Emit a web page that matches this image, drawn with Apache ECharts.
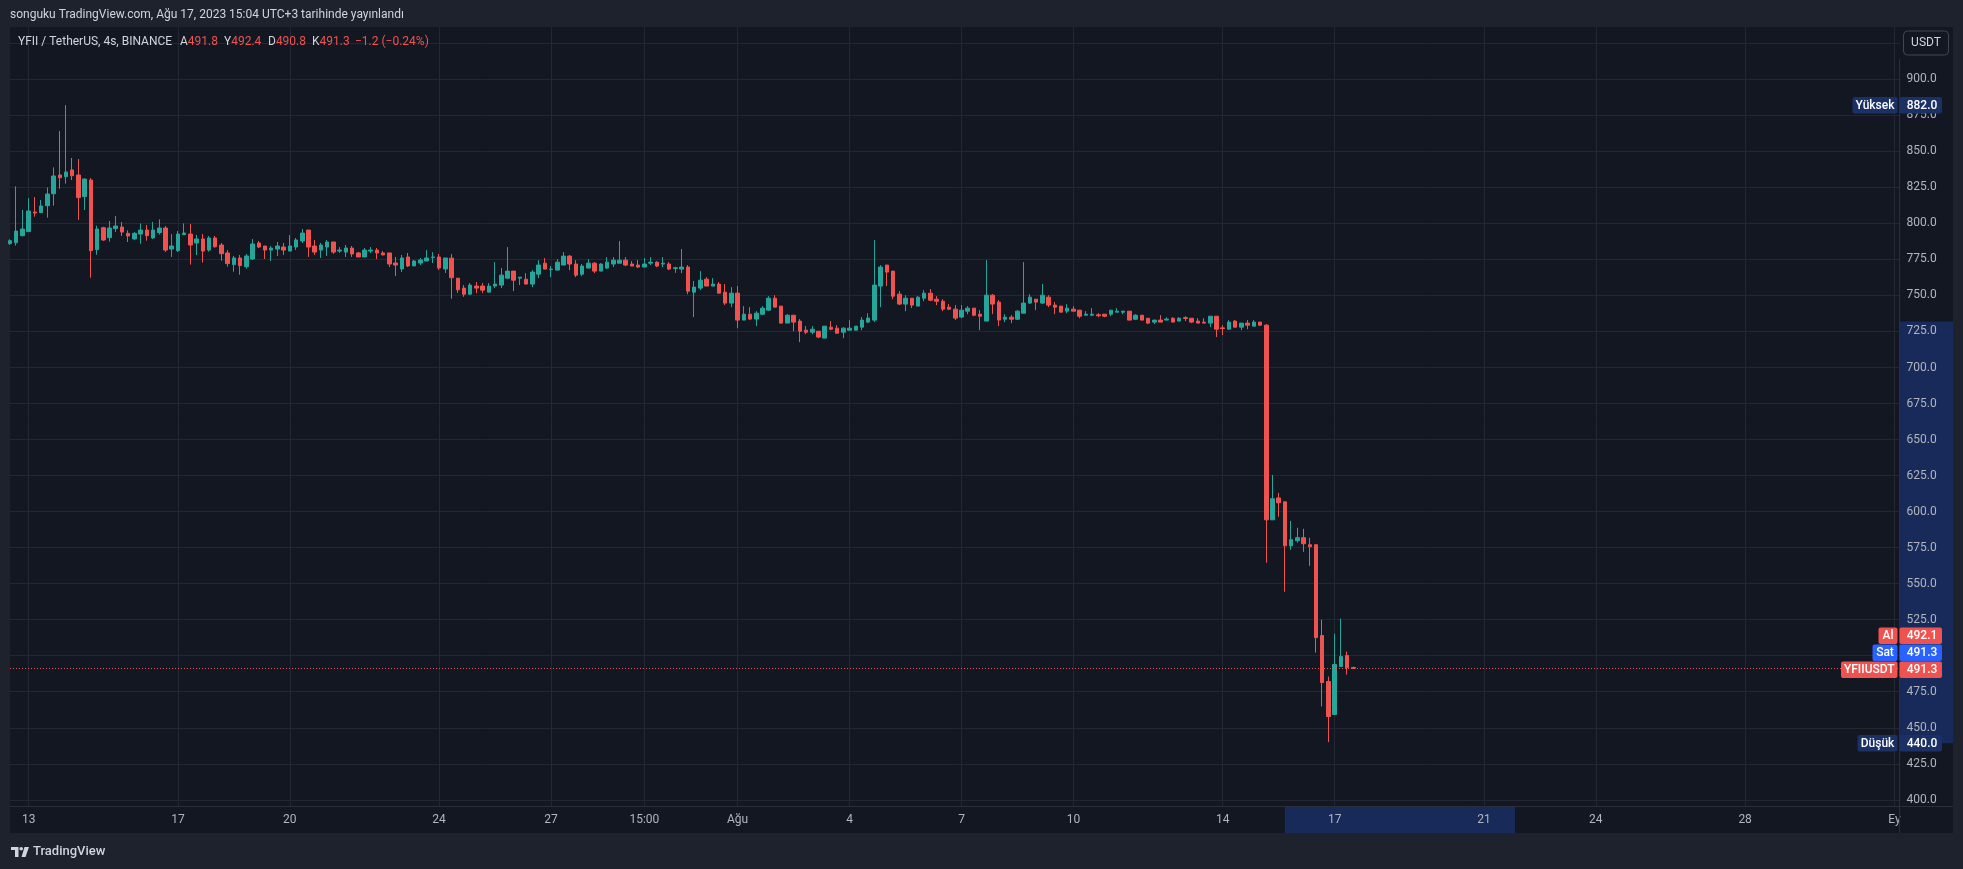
<!DOCTYPE html>
<html><head><meta charset="utf-8">
<script src="https://cdn.jsdelivr.net/npm/echarts@6/dist/echarts.min.js"></script>
<style>html,body{margin:0;padding:0;background:#1e222d;overflow:hidden}#c{width:1963px;height:869px}</style>
</head><body><div id="c"></div>
<script>
// ---- data (4h candles, UTC+3 local time) ----
const opens = [786,786.6,791.5,794.3,807.9,807.5,812.3,820.6,833.6,832.4,
837.1,833.6,818.6,830.1,781.8,797.0,790.1,796.4,797.5,793.1,
789.2,792.6,795.4,789.9,793.6,796.8,782.2,781.1,792.2,792.6,
786.4,789.2,781.5,789.9,785.0,779.5,771.4,776.0,770.0,775.3,
786.4,784.3,781.5,782.2,783.6,780.8,783.6,787.8,795.4,784.3,
781.5,783.6,787.1,780.8,780.1,782.9,779.5,776.7,780.8,781.5,
779.5,779.5,772.5,768.4,776.7,770.5,772.5,773.9,776.3,776.7,
768.4,775.9,762.0,755.1,750.9,756.5,756.5,752.3,756.5,757.2,
762.0,766.9,762.0,761.3,757.9,764.8,772.4,768.0,767.6,771.1,
777.3,771.8,764.8,769.0,772.4,766.9,769.0,771.8,772.4,774.5,
771.8,771.1,769.7,772.4,773.1,771.8,771.8,768.7,768.3,769.7,
752.3,755.1,761.3,756.5,757.9,752.3,744.7,751.6,732.9,737.0,
733.6,737.0,739.8,748.1,742.6,730.8,736.3,732.2,725.9,724.5,
725.2,720.4,728.0,727.3,724.5,725.9,725.9,728.0,731.5,732.9,
756.5,771.1,766.9,750.9,744.0,748.1,742.6,748.1,751.6,747.4,
746.0,741.9,740.5,735.0,739.1,741.2,737.0,732.2,750.2,745.4,
733.5,734.9,733.5,737.7,744.7,747.4,744.7,748.8,743.3,742.6,
739.1,740.5,739.8,736.3,736.3,736.6,737.0,737.0,738.4,738.4,
739.1,733.5,736.3,734.2,731.5,732.9,732.9,734.2,732.2,734.6,
734.2,732.2,731.5,730.8,735.6,727.5,726.6,732.2,728.0,730.8,
728.7,731.5,729.4,594.3,609.5,606.8,576.3,579.8,581.9,577.0,
577.0,514.0,482.1,459.2,492.5,500.1,491.8];
const highs = [789,825.7,809.3,817.6,818.3,816.2,825.0,838.9,864.1,882.0,
845.4,844.7,831.0,831.5,798.4,797.7,801.7,805.1,801.0,795.2,
794.0,800.0,798.9,801.0,802.8,798.2,792.6,794.7,800.0,799.6,
792.0,792.6,791.3,791.3,786.4,781.5,777.4,778.1,778.8,789.2,
787.8,784.3,784.3,787.1,786.4,791.9,789.9,796.1,795.4,788.5,
786.4,788.5,787.1,783.6,785.0,784.3,780.2,782.9,783.6,782.9,
780.8,779.5,776.7,778.1,779.5,774.6,776.0,781.5,780.1,778.8,
776.0,778.7,762.0,757.2,758.6,759.3,758.6,758.6,773.1,769.0,
783.6,766.9,762.7,765.5,767.6,774.5,775.9,770.4,775.2,780.1,
778.0,774.5,771.8,775.2,773.1,772.4,776.6,776.6,787.7,776.6,
773.8,774.5,775.9,776.6,773.8,776.6,773.1,769.9,782.2,771.1,
760.0,766.9,762.7,762.0,759.3,757.9,755.8,756.5,742.6,741.9,
739.1,742.6,749.5,750.2,742.6,737.0,736.3,733.6,728.7,728.7,
725.2,728.7,732.2,729.4,728.0,732.9,728.7,735.0,737.7,788.4,
771.1,771.1,766.9,753.0,750.2,748.1,749.5,753.7,754.4,749.5,
747.4,744.0,743.3,743.3,742.6,741.2,739.8,774.5,750.9,746.8,
737.0,736.3,739.8,773.1,750.9,747.4,757.9,750.2,745.4,742.6,
743.9,742.6,739.8,739.1,741.2,737.7,737.0,739.8,741.2,739.1,
739.1,737.0,736.3,734.2,732.9,736.3,734.9,734.9,734.9,735.6,
734.2,734.2,734.2,735.6,735.6,729.4,732.9,732.9,730.8,732.9,
732.9,731.5,730.1,625.5,613.0,606.8,593.6,588.8,588.1,581.8,
577.0,525.0,485.6,515.3,525.7,502.9,492.4];
const lows = [785,784.6,791.0,794.0,804.7,807.4,804.0,812.3,824.1,827.6,
830.1,802.4,809.3,762.3,778.3,787.8,787.3,794.1,791.3,787.1,
788.7,785.9,788.0,789.2,792.2,780.2,776.7,780.2,792.2,771.4,
778.1,772.8,780.4,783.2,774.1,770.0,766.5,764.4,768.6,774.6,
782.9,775.3,773.9,777.4,778.1,780.8,781.5,786.4,776.7,778.1,
776.0,777.4,778.8,779.5,776.7,776.7,776.7,776.7,779.5,775.3,
778.1,769.7,763.5,766.3,769.7,770.5,771.1,773.9,772.5,767.7,
765.6,747.7,751.8,749.1,750.2,751.6,751.6,752.3,755.1,755.1,
761.3,753.0,757.2,757.9,755.8,762.0,768.3,762.7,767.6,771.1,
767.6,762.7,763.4,769.0,765.5,766.9,768.3,769.7,772.4,770.4,
770.4,769.0,769.7,771.1,769.7,769.7,767.6,765.7,765.5,750.9,
735.0,753.7,756.5,756.5,751.6,743.3,741.9,727.3,732.9,732.9,
728.7,736.3,739.1,741.9,730.8,730.8,725.2,717.6,723.1,723.1,
720.4,720.4,725.9,723.8,720.4,725.9,725.9,725.9,730.8,731.5,
741.9,756.5,747.4,743.3,739.1,741.2,742.6,746.0,746.0,743.3,
739.1,739.8,732.9,734.2,737.0,735.6,725.9,732.2,737.0,728.7,
731.5,730.8,732.9,737.7,744.0,739.8,744.0,741.9,737.0,738.4,
737.7,739.1,734.2,736.3,735.6,734.9,734.9,735.6,738.4,737.0,
732.9,732.9,732.9,730.1,730.1,731.5,732.9,731.5,732.2,732.2,
730.8,730.8,730.8,728.0,721.1,722.5,726.6,728.0,725.9,726.6,
728.7,728.7,564.5,594.3,596.4,544.4,573.5,578.4,572.1,562.4,
502.2,464.8,440.0,459.2,492.5,486.9,490.8];
const closes = [788,794.7,796.1,808.6,807.2,812.1,820.4,832.9,831.7,835.7,
833.1,817.9,830.8,781.1,796.1,788.5,796.8,798.2,794.0,791.3,
793.1,795.4,791.5,795.4,796.8,781.5,784.3,792.6,793.3,785.0,
789.2,780.8,789.9,783.8,779.0,772.1,776.0,770.7,777.4,785.7,
783.6,781.5,782.9,784.3,781.5,784.3,788.5,793.3,783.6,780.1,
785.0,787.1,780.1,781.5,782.9,778.8,776.7,781.5,781.5,779.5,
778.1,771.8,771.1,776.0,770.5,773.9,774.6,776.0,776.7,769.1,
776.0,762.3,753.9,750.9,757.2,755.1,753.7,756.5,757.9,764.1,
766.9,760.6,762.7,757.9,766.2,771.1,768.3,768.3,773.1,777.3,
771.8,764.1,770.4,772.4,766.9,771.8,773.1,774.5,774.5,771.1,
770.4,769.7,771.8,773.1,770.4,772.4,768.3,769.2,769.7,753.0,
755.8,760.6,756.5,757.9,751.6,744.7,751.6,732.9,737.0,733.6,
737.7,741.2,748.1,741.9,730.8,736.3,731.5,725.2,724.5,726.6,
721.1,728.7,726.6,723.8,727.3,727.3,728.7,732.9,734.3,757.2,
769.7,766.2,749.5,744.0,748.1,743.3,748.8,751.6,746.7,746.0,
740.5,740.5,734.3,739.8,741.2,736.3,735.6,750.2,744.0,732.9,
734.9,733.5,739.1,744.7,748.8,745.4,750.2,743.3,741.9,738.4,
741.2,739.1,735.6,737.0,737.0,735.9,735.6,739.8,739.1,739.1,
732.9,736.3,732.9,730.8,732.9,731.5,733.6,731.5,734.2,734.0,
731.5,730.8,730.8,735.6,726.6,727.1,731.5,728.0,730.8,729.4,
731.5,729.4,594.3,608.9,606.1,576.3,580.5,581.9,577.7,575.6,
512.6,481.4,457.8,493.9,499.4,491.8,491.3];

// time axis: first candle 2023-07-12 15:00, 4h steps, axis runs to 2023-09-01
const startUTC = Date.UTC(2023, 6, 12, 15, 0);
const stepHours = 4;
const categoryCount = 305;
const tickLabels = {
  '2023-07-13 03:00':'13','2023-07-17 03:00':'17','2023-07-20 03:00':'20','2023-07-24 03:00':'24',
  '2023-07-27 03:00':'27','2023-07-29 15:00':'15:00','2023-08-01 03:00':'Ağu','2023-08-04 03:00':'4',
  '2023-08-07 03:00':'7','2023-08-10 03:00':'10','2023-08-14 03:00':'14','2023-08-17 03:00':'17',
  '2023-08-21 03:00':'21','2023-08-24 03:00':'24','2023-08-28 03:00':'28','2023-09-01 03:00':'Ey'
};
const yTickMin = 400, yTickMax = 925, yTickStep = 25;
const paneMin = 395.7, paneMax = 936.3;
const lastPrice = 491.3, askPrice = 492.1, bidPrice = 491.3;
const legendOHLC = {A:'491.8', Y:'492.4', D:'490.8', K:'491.3', chg:'−1.2 (−0.24%)'};
const highlightTimeRange = ['2023-08-15 19:00', '2023-08-21 23:00'];
const highlightPriceRange = [439.3, 732.0];

// ---- build ----
function fmt(d){const p=n=>String(n).padStart(2,'0');return d.getUTCFullYear()+'-'+p(d.getUTCMonth()+1)+'-'+p(d.getUTCDate())+' '+p(d.getUTCHours())+':00';}
const categories=[];
for(let i=0;i<categoryCount;i++) categories.push(fmt(new Date(startUTC+i*stepHours*3600e3)));
const candleData = opens.map((o,i)=>[o, closes[i], lows[i], highs[i]]);
const UP='#26a69a', DOWN='#ef5350', GRID='#232733', LABEL='#b2b5be', TXT='#d1d4dc';
const FONT='Roboto, "Noto Sans", sans-serif';
const PANE='#131722', FRAME='#1e222d', SEP='#2a2e39';

const chart = echarts.init(document.getElementById('c'));
const isTick=(i,v)=>Object.prototype.hasOwnProperty.call(tickLabels,v);
chart.setOption({
  backgroundColor: FRAME,
  animation:false,
  grid:[{left:10,top:27,right:62.4,bottom:63},{left:10,top:43.3,right:62.4,bottom:69.2}],
  xAxis:[
    {type:'category',gridIndex:0,data:categories,boundaryGap:false,
     axisLine:{show:false},axisTick:{show:false},
     axisLabel:{interval:isTick,formatter:v=>tickLabels[v]||'',color:LABEL,fontSize:12,fontFamily:FONT,margin:8},
     splitLine:{show:true,interval:isTick,lineStyle:{color:GRID,width:1}}},
    {type:'category',gridIndex:1,data:categories,boundaryGap:false,show:false}
  ],
  yAxis:[
    {type:'value',gridIndex:0,min:paneMin,max:paneMax,position:'right',show:true,
     axisLine:{show:false},axisLabel:{show:false},axisTick:{show:false},splitLine:{show:false}},
    {type:'value',gridIndex:1,min:yTickMin,max:yTickMax,interval:yTickStep,position:'right',
     axisLine:{show:false},axisTick:{show:false},
     axisLabel:{color:LABEL,fontSize:12,fontFamily:FONT,margin:6,align:'left',showMaxLabel:false,formatter:v=>v.toFixed(1)},
     splitLine:{show:true,lineStyle:{color:GRID,width:1}}}
  ],
  series:[{
    type:'candlestick',xAxisIndex:0,yAxisIndex:0,data:candleData,barWidth:4,clip:true,
    itemStyle:{color:UP,color0:DOWN,borderColor:UP,borderColor0:DOWN,borderWidth:1},
    markLine:{silent:true,symbol:['none','none'],label:{show:false},
      lineStyle:{color:DOWN,type:[1,2],width:1},data:[{yAxis:lastPrice}]}
  }]
});

const px = v => chart.convertToPixel({yAxisIndex:0}, v);
const pxX = c => chart.convertToPixel({xAxisIndex:0}, c);
const g = [];
// pane
g.push({type:'rect',z:-100,shape:{x:10,y:27,width:1943,height:806},style:{fill:PANE}});
// highlights
const hx0=pxX(highlightTimeRange[0]), hx1=pxX(highlightTimeRange[1]);
g.push({type:'rect',z:-50,shape:{x:hx0,y:807,width:hx1-hx0,height:26},style:{fill:'rgba(41,98,255,0.25)'}});
const hy0=px(highlightPriceRange[1]), hy1=px(highlightPriceRange[0]);
g.push({type:'rect',z:-50,shape:{x:1900,y:hy0,width:53,height:hy1-hy0},style:{fill:'rgba(41,98,255,0.25)'}});
// separators
g.push({type:'line',z:5,shape:{x1:10,y1:806.5,x2:1953,y2:806.5},style:{stroke:SEP,lineWidth:1}});
g.push({type:'line',z:5,shape:{x1:1899.5,y1:59,x2:1899.5,y2:833},style:{stroke:SEP,lineWidth:1}});
// USDT button
g.push({type:'rect',z:90,shape:{x:1900,y:27,width:53,height:31},style:{fill:PANE}});
g.push({type:'rect',z:91,shape:{x:1903.5,y:31,width:45,height:24,r:4},style:{fill:PANE,stroke:'#434651',lineWidth:1}});
g.push({type:'text',z:92,x:1926,y:43,style:{text:'USDT',fill:TXT,font:'12px '+FONT,align:'center',verticalAlign:'middle'}});
// price boxes
function box(label, value, y, color, lx){
  const h=16.5;
  g.push({type:'rect',z:95,shape:{x:lx,y:y-h/2,width:1897.5-lx,height:h,r:2},style:{fill:color}});
  g.push({type:'text',z:96,x:(lx+1897.5)/2,y:y+0.5,style:{text:label,fill:'#ffffff',font:'500 12px '+FONT,align:'center',verticalAlign:'middle'}});
  g.push({type:'rect',z:95,shape:{x:1899.5,y:y-h/2,width:42.5,height:h,r:2},style:{fill:color}});
  g.push({type:'text',z:96,x:1906.7,y:y+0.5,style:{text:value,fill:'#ffffff',font:'500 12px '+FONT,align:'left',verticalAlign:'middle'}});
}
const hi=Math.max(...highs), lo=Math.min(...lows), yl=px(lastPrice);
box('Yüksek', hi.toFixed(1), px(hi), '#1b3165', 1852.5);
box('Düşük', lo.toFixed(1), px(lo)+1, '#1b3165', 1857.5);
box('YFIIUSDT', lastPrice.toFixed(1), yl+1.5, DOWN, 1841);
box('Sat', bidPrice.toFixed(1), yl-15.5, '#2962ff', 1872.5);
box('Al', askPrice.toFixed(1), yl-32.5, DOWN, 1878.5);
// header
g.push({type:'text',x:10,y:15,style:{text:'songuku TradingView.com, Ağu 17, 2023 15:04 UTC+3 tarihinde yayınlandı',fill:TXT,font:'12px '+FONT,verticalAlign:'middle'}});
g.push({type:'text',x:18,y:42,style:{text:'YFII / TetherUS, 4s, BINANCE',fill:TXT,font:'12px '+FONT,verticalAlign:'middle'}});
[['A',180],['Y',224],['D',268],['K',312]].forEach(([k,x])=>{
  g.push({type:'text',x:x,y:42,style:{text:'{a|'+k+'}{b|'+legendOHLC[k]+'}',fill:TXT,font:'12px '+FONT,verticalAlign:'middle',
    rich:{a:{fill:TXT,font:'12px '+FONT},b:{fill:DOWN,font:'12px '+FONT}}}});
});
g.push({type:'text',x:355,y:42,style:{text:legendOHLC.chg,fill:DOWN,font:'12px '+FONT,verticalAlign:'middle'}});
// footer logo
g.push({type:'polygon',shape:{points:[[11,847],[18.5,847],[18.5,857],[15,857],[15,850],[11,850]]},style:{fill:TXT}});
g.push({type:'circle',shape:{cx:21.2,cy:848.8,r:1.8},style:{fill:TXT}});
g.push({type:'polygon',shape:{points:[[24.5,847],[29,847],[25.5,857],[21.5,857]]},style:{fill:TXT}});
g.push({type:'text',x:33,y:852,style:{text:'TradingView',fill:TXT,font:'500 13px '+FONT,verticalAlign:'middle'}});
chart.setOption({graphic:g});
</script></body></html>
